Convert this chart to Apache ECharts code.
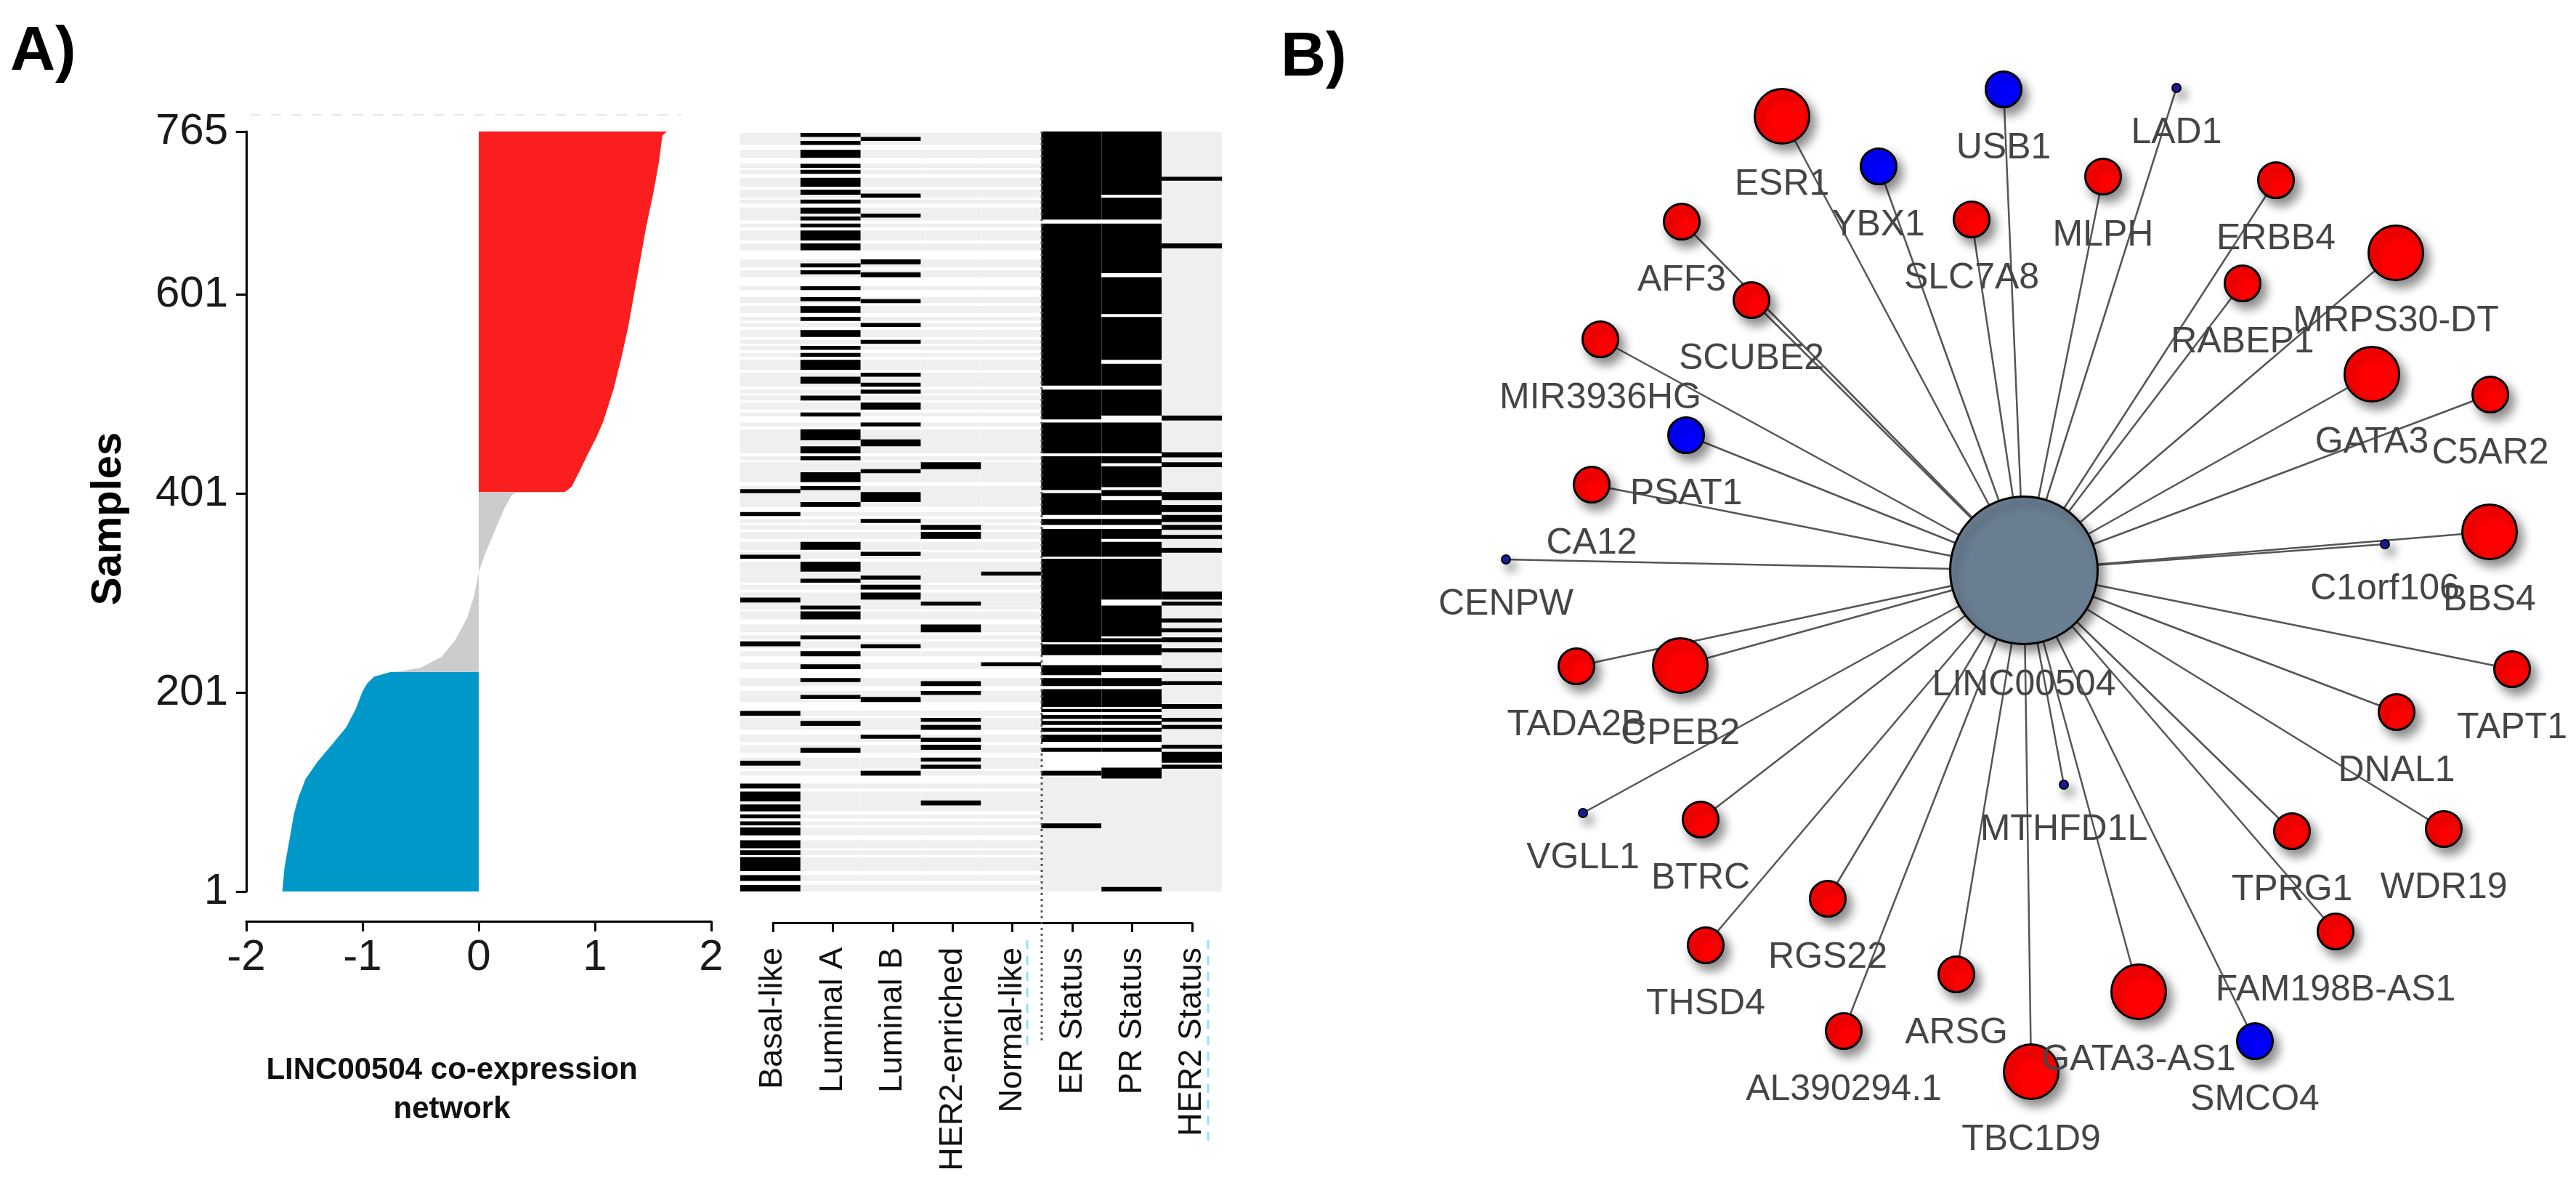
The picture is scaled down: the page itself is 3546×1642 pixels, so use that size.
<!DOCTYPE html>
<html><head><meta charset="utf-8">
<script src="https://cdn.jsdelivr.net/npm/echarts@6/dist/echarts.min.js"></script>
<style>html,body{margin:0;padding:0;background:#fff}#c{width:3546px;height:1642px}</style>
</head><body><div id="c"></div>
<script>
// ---------- Panel A: sorted co-expression scores ----------
const sampleTicks = [1, 201, 401, 601, 765];
// [sample rank, score] along the edge of each group
const redProfile = [[765,1.62],[761,1.58],[734,1.55],[702,1.50],[669,1.44],[636,1.39],[604,1.34],[571,1.29],[539,1.23],[506,1.16],[473,1.07],[457,1.01],[441,0.94],[424,0.87],[415,0.83],[408,0.80],[402.5,0.74]];
const greyProfile = [[402.5,0.33],[399,0.28],[386,0.22],[364,0.14],[342,0.06],[322,0.0],[298,-0.04],[276,-0.10],[254,-0.20],[237,-0.32],[226,-0.50],[221.5,-0.72]];
const blueProfile = [[221.5,-0.76],[217,-0.90],[210,-0.96],[202,-1.00],[184,-1.06],[166,-1.14],[149,-1.26],[131,-1.39],[114,-1.49],[96,-1.55],[79,-1.59],[52,-1.63],[26,-1.67],[1,-1.69]];

// ---------- Panel A: annotation heatmap (sample ranges that are positive) ----------
const heatColumns = ['Basal-like','Luminal A','Luminal B','HER2-enriched','Normal-like','ER Status','PR Status','HER2 Status'];
const basalRows = [[402,405],[379,382],[336,339],[292,296],[248,252],[178,182],[128,132],[105,109],[92,101],[82,88],[75,78],[68,71],[58,65],[45,52],[38,42],[22,35],[12,17],[1,7]];
const lumARows = [[760,763],[752,755],[739,746],[729,732],[723,726],[710,718],[702,706],[693,696],[683,688],[676,679],[669,672],[656,665],[646,652],[629,632],[622,625],[606,609],[595,598],[583,589],[575,578],[559,565],[546,549],[539,542],[526,535],[512,518],[495,499],[479,482],[455,465],[442,448],[435,438],[413,422],[405,408],[388,392],[345,352],[323,332],[312,315],[285,288],[275,282],[255,258],[238,242],[225,229],[212,215],[195,198],[168,172],[141,145]];
const lumBRows = [[756,759],[699,702],[679,682],[632,636],[619,623],[593,596],[569,572],[552,555],[519,522],[509,512],[502,505],[486,492],[469,472],[449,455],[422,425],[393,402],[372,375],[339,342],[315,318],[305,309],[295,301],[246,249],[192,196],[155,158],[118,122]];
const her2eRows = [[426,432],[365,369],[356,362],[289,292],[262,269],[208,212],[199,202],[172,175],[164,168],[152,155],[144,148],[132,135],[125,128],[88,92]];
const normalRows = [[319,322],[228,231]];
const erRows = [[677,765],[510,672],[476,505],[442,472],[405,438],[380,401],[370,375],[338,365],[252,335],[239,249],[219,228],[208,215],[187,204],[182,184],[175,178],[169,172],[162,165],[152,158],[142,145],[118,122],[65,69]];
const prRows = [[702,765],[677,698],[623,672],[582,618],[536,578],[510,531],[480,505],[442,472],[432,438],[408,428],[399,404],[380,394],[370,375],[356,365],[338,352],[295,335],[258,288],[252,255],[239,249],[222,228],[208,215],[187,204],[182,184],[175,178],[169,172],[162,165],[152,158],[142,145],[115,125],[1,5]];
const her2StatusRows = [[716,719],[648,652],[475,479],[438,442],[428,432],[395,402],[383,389],[373,379],[365,369],[356,359],[342,346],[295,302],[289,292],[272,275],[262,265],[252,256],[242,245],[222,225],[209,212],[185,189],[172,175],[165,168],[145,148],[131,141],[125,128]];
const erPrMissingRows = [[116,765]];

// ---------- Panel B: co-expression network ----------
const networkHub = 'LINC00504';
// [gene, group, size class, layout x, layout y] (layout relative to the hub)
const networkNodes = [
 ['ESR1','up','L',-333,-625],['YBX1','down','M',-200,-556],['USB1','down','M',-28,-662],
 ['LAD1','minor','S',210,-664],['MLPH','up','M',109,-542],['SLC7A8','up','M',-72,-483],
 ['ERBB4','up','M',347,-537],['AFF3','up','M',-471,-480],['SCUBE2','up','M',-375,-372],
 ['RABEP1','up','M',301,-395],['MRPS30-DT','up','L',512,-437],['MIR3936HG','up','M',-583,-318],
 ['GATA3','up','L',479,-270],['C5AR2','up','M',642,-242],['PSAT1','down','M',-465,-186],
 ['CA12','up','M',-595,-118],['C1orf106','minor','S',497,-36],['BBS4','up','L',641,-53],
 ['CENPW','minor','S',-713,-15],['TADA2B','up','M',-616,132],['CPEB2','up','L',-473,131],
 ['TAPT1','up','M',672,136],['DNAL1','up','M',513,195],['MTHFD1L','minor','S',55,295],
 ['VGLL1','minor','S',-607,334],['BTRC','up','M',-445,343],['WDR19','up','M',578,356],
 ['TPRG1','up','M',369,359],['RGS22','up','M',-270,452],['FAM198B-AS1','up','M',429,497],
 ['THSD4','up','M',-438,516],['ARSG','up','M',-93,556],['GATA3-AS1','up','L',158,580],
 ['SMCO4','down','M',318,648],['AL390294.1','up','M',-248,634],['TBC1D9','up','L',10,690]
];

const FONT = 'Liberation Sans, Arial, Helvetica, sans-serif';
const chart = echarts.init(document.getElementById('c'), null, {renderer:'canvas'});

function profileSeries(profile, color) {
  return {
    type:'custom', xAxisIndex:0, yAxisIndex:0, data: profile, encode:{x:1, y:0}, silent:true,
    renderItem: function(params, api) {
      if (params.dataIndex !== 0) return null;
      const pts = [api.coord([0, profile[0][0]])];
      profile.forEach(p => pts.push(api.coord([p[1], p[0]])));
      pts.push(api.coord([0, profile[profile.length-1][0]]));
      return {type:'polygon', shape:{points:pts}, style:{fill:color}};
    }
  };
}

// heat cells: [column, fromSample, toSample, kind]  kind 0 white, 1 grey, 2 black
const subtypeRows = [basalRows, lumARows, lumBRows, her2eRows, normalRows];
const assignedRows = [].concat(...subtypeRows);
const heatCells = [];
subtypeRows.forEach((rows, c) => {
  assignedRows.forEach(r => heatCells.push([c, r[0], r[1], 1]));
  rows.forEach(r => heatCells.push([c, r[0], r[1], 2]));
});
[erRows, prRows].forEach((rows, k) => {
  const c = 5 + k;
  heatCells.push([c, 1, 765, 1]);
  erPrMissingRows.forEach(r => heatCells.push([c, r[0], r[1], 0]));
  rows.forEach(r => heatCells.push([c, r[0], r[1], 2]));
});
heatCells.push([7, 1, 765, 1]);
her2StatusRows.forEach(r => heatCells.push([7, r[0], r[1], 2]));
const heatColors = ['#ffffff', '#efefef', '#000000'];

const sizeMap = {L:75, M:49, S:12};
const colorMap = {up:'#ff0000', down:'#0000ff', minor:'#1a1a9e'};
const nodeShadow = {opacity:1, shadowBlur:14, shadowOffsetX:7, shadowOffsetY:9, shadowColor:'rgba(0,0,0,0.45)'};
const nodeData = [{name:networkHub, value:[0,0], symbolSize:203,
  itemStyle:Object.assign({color:'#6b7f93', borderColor:'#000', borderWidth:3}, nodeShadow)}]
  .concat(networkNodes.map(n => ({name:n[0], value:[n[3], n[4]], symbolSize:sizeMap[n[2]],
    itemStyle:Object.assign({color:colorMap[n[1]], borderColor:'#000', borderWidth:n[2]==='S'?2:3}, nodeShadow)})));
const edgeData = networkNodes.map(n => ({coords:[[0,0],[n[3], n[4]]]}));

const option = {
  animation:false,
  backgroundColor:'#ffffff',
  textStyle:{fontFamily:FONT},
  grid:[
    {left:339, top:181, width:640, height:1046},
    {left:1019, top:181, width:663, height:1046},
    {left:1064, top:1000, width:577, height:270},
    {left:1800, top:0, width:1746, height:1642}
  ],
  xAxis:[
    {gridIndex:0, type:'value', min:-2, max:2, interval:1, offset:41,
     axisLine:{onZero:false, lineStyle:{color:'#000', width:3}},
     axisTick:{length:14, lineStyle:{color:'#000', width:3}},
     axisLabel:{fontSize:60, margin:20, color:'#1a1a1a', fontFamily:FONT},
     splitLine:{show:false}},
    {gridIndex:1, type:'value', min:0, max:8, show:false},
    {gridIndex:2, type:'category', data:heatColumns, boundaryGap:false,
     axisLine:{lineStyle:{color:'#000', width:3}},
     axisTick:{length:13, lineStyle:{color:'#000', width:3}},
     axisLabel:{rotate:90, fontSize:45, margin:34, color:'#111', fontFamily:FONT, interval:0}},
    {gridIndex:3, type:'value', min:-986, max:760, show:false}
  ],
  yAxis:[
    {gridIndex:0, type:'value', min:1, max:765,
     axisLine:{show:true, onZero:false, lineStyle:{color:'#000', width:3}},
     axisTick:{show:true, length:14, customValues:sampleTicks, lineStyle:{color:'#000', width:3}},
     axisLabel:{customValues:sampleTicks, fontSize:60, margin:25, color:'#1a1a1a', fontFamily:FONT},
     splitLine:{show:false}},
    {gridIndex:1, type:'value', min:1, max:765, show:false},
    {gridIndex:2, type:'value', show:false},
    {gridIndex:3, type:'value', min:-785, max:857, inverse:true, show:false}
  ],
  series:[
    profileSeries(redProfile, '#fa1e1e'),
    profileSeries(greyProfile, '#cccccc'),
    profileSeries(blueProfile, '#0098c9'),
    {type:'custom', xAxisIndex:1, yAxisIndex:1, data:heatCells, encode:{x:0, y:1}, clip:true,
     progressive:0, silent:true,
     renderItem:function(params, api) {
       const c = api.value(0), s1 = api.value(1), s2 = api.value(2), k = api.value(3);
       const tl = api.coord([c, s2 + 0.5]);
       const br = api.coord([c + 1, s1 - 0.5]);
       return {type:'rect', shape:{x:tl[0], y:tl[1], width:br[0]-tl[0], height:br[1]-tl[1]},
               style:{fill:heatColors[k]}};
     }},
    {type:'line', xAxisIndex:2, yAxisIndex:2, data:[], silent:true},
    {type:'lines', coordinateSystem:'cartesian2d', xAxisIndex:3, yAxisIndex:3, data:edgeData,
     lineStyle:{color:'#555555', width:2.5, opacity:1, curveness:0}, silent:true, z:1},
    {type:'scatter', xAxisIndex:3, yAxisIndex:3, data:nodeData, clip:false, z:2, silent:true,
     label:{show:true, position:'bottom', distance:30, formatter:'{b}', fontSize:50,
            color:'#454545', fontFamily:FONT}}
  ],
  graphic:[
    {type:'text', x:14, y:72, style:{text:'A)', font:'bold 86px ' + FONT, fill:'#000', textVerticalAlign:'middle'}},
    {type:'text', x:1763, y:80, style:{text:'B)', font:'bold 86px ' + FONT, fill:'#000', textVerticalAlign:'middle'}},
    {type:'text', x:150, y:714, rotation:Math.PI/2,
     style:{text:'Samples', font:'bold 58px ' + FONT, fill:'#000', textAlign:'center', textVerticalAlign:'middle'}},
    {type:'text', x:622, y:1500,
     style:{text:'LINC00504 co-expression\nnetwork', font:'bold 42px ' + FONT, lineHeight:54, fill:'#111',
            textAlign:'center', textVerticalAlign:'middle'}},
    {type:'line', z:100, shape:{x1:1434, y1:181, x2:1434, y2:1436},
     style:{stroke:'#555', lineWidth:3, lineDash:[3,5]}},
    {type:'line', z:100, shape:{x1:1414, y1:1294, x2:1414, y2:1439},
     style:{stroke:'#8fe6f2', lineWidth:3, lineDash:[12,10]}},
    {type:'line', z:100, shape:{x1:1663, y1:1294, x2:1663, y2:1579},
     style:{stroke:'#8fe6f2', lineWidth:3, lineDash:[12,10]}},
    {type:'line', z:100, shape:{x1:345, y1:158, x2:938, y2:158},
     style:{stroke:'#e6e6e6', lineWidth:2, lineDash:[14,14]}}
  ]
};
chart.setOption(option);
</script></body></html>
